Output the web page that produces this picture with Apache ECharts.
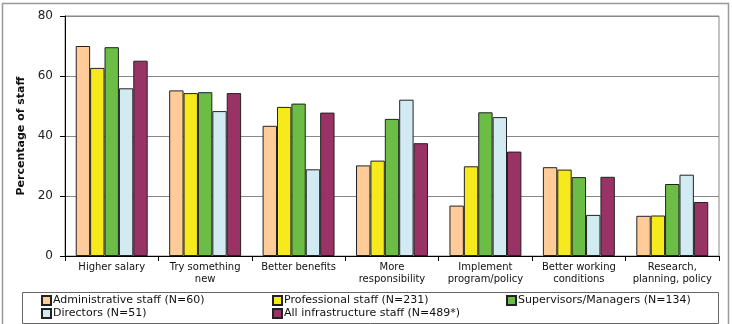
<!DOCTYPE html>
<html>
<head>
<meta charset="utf-8">
<script src="https://cdn.jsdelivr.net/npm/echarts@6/dist/echarts.min.js"></script>
<style>
  html, body { margin: 0; padding: 0; background: #fff; }
  #chart { width: 732px; height: 324px; }
</style>
</head>
<body>
<div id="chart"></div>
<script>
const categories = [
  "Higher salary",
  "Try something\nnew",
  "Better benefits",
  "More\nresponsibility",
  "Implement\nprogram/policy",
  "Better working\nconditions",
  "Research,\nplanning, policy",
];
const seriesNames = [
  "Administrative staff (N=60)",
  "Professional staff (N=231)",
  "Supervisors/Managers (N=134)",
  "Directors (N=51)",
  "All infrastructure staff (N=489*)",
];
const adminStaff = [70, 55.2, 43.4, 30.2, 16.8, 29.6, 13.4];
const professionalStaff = [62.7, 54.3, 49.7, 31.8, 29.9, 28.8, 13.5];
const supervisors = [69.6, 54.6, 50.8, 45.7, 47.9, 26.3, 24];
const directors = [55.9, 48.3, 28.9, 52.1, 46.3, 13.7, 27.1];
const allStaff = [65.1, 54.3, 47.8, 37.6, 34.8, 26.4, 18];

const colors = ["#FFCC99", "#F7EA1C", "#6BBD45", "#D2EBF3", "#993366"];
const values = [adminStaff, professionalStaff, supervisors, directors, allStaff];

// legend slots: [left, top]
const legendPos = [[41, 295], [272, 295], [506, 295], [41, 308], [272, 308]];

const chart = echarts.init(document.getElementById("chart"));

const font = "DejaVu Sans, Arial, sans-serif";

chart.setOption({
  animation: false,
  textStyle: { fontFamily: font },
  grid: {
    left: 65,
    right: 13,
    top: 16,
    bottom: 68,
    show: true,
    borderColor: "#888",
    borderWidth: 1,
  },
  legend: seriesNames.map((name, i) => ({
    data: [name],
    left: legendPos[i][0],
    top: legendPos[i][1],
    itemWidth: 9,
    itemHeight: 9,
    padding: 0,
    icon: "rect",
    textStyle: { fontSize: 11, color: "#111", padding: [1, 0, 0, -3] },
  })),
  graphic: [
    {
      type: "rect",
      shape: { x: 2.5, y: 3.5, width: 726, height: 330 },
      style: { fill: "none", stroke: "#999", lineWidth: 1.5 },
      silent: true,
    },
    {
      type: "rect",
      shape: { x: 22.5, y: 292.5, width: 696, height: 31 },
      style: { fill: "none", stroke: "#666", lineWidth: 1 },
      silent: true,
    },
  ],
  xAxis: {
    type: "category",
    data: categories,
    axisLine: { lineStyle: { color: "#000", width: 1 } },
    axisTick: { show: true, length: 5, lineStyle: { color: "#000" } },
    axisLabel: {
      fontSize: 10,
      color: "#111",
      lineHeight: 12,
      margin: 5,
      interval: 0,
    },
  },
  yAxis: {
    type: "value",
    min: 0,
    max: 80,
    interval: 20,
    name: "Percentage of staff",
    nameLocation: "middle",
    nameGap: 33,
    nameTextStyle: { fontSize: 11, fontWeight: "bold", color: "#111" },
    axisLine: { show: true, lineStyle: { color: "#000" } },
    axisTick: { show: true, length: 5, lineStyle: { color: "#000" } },
    axisLabel: {
      fontSize: 12,
      color: "#222",
      margin: 12,
    },
    splitLine: { lineStyle: { color: "#888", width: 1 } },
  },
  series: seriesNames.map((name, i) => ({
    name,
    type: "bar",
    data: values[i],
    barGap: "0%",
    barCategoryGap: "23%",
    itemStyle: {
      color: colors[i],
      borderColor: "#222",
      borderWidth: 1,
    },
  })),
});
</script>
</body>
</html>
